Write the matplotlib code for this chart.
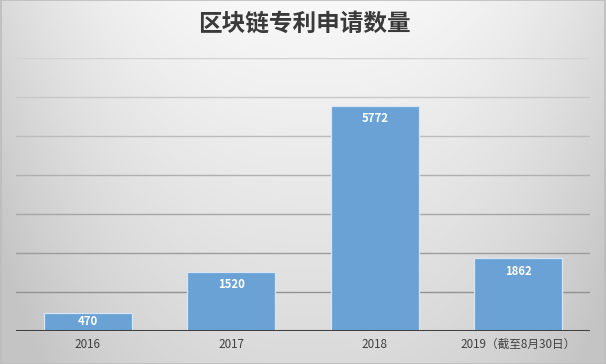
import numpy as np
import matplotlib
matplotlib.use('Agg')
import matplotlib.pyplot as plt

plt.rcParams['font.family'] = ['Noto Sans CJK SC', 'DejaVu Sans']

kategorie = ['2016', '2017', '2018', '2019（截至8月30日）']
wartosci = [470, 1520, 5772, 1862]
tytul = '区块链专利申请数量'
siatka = [1000, 2000, 3000, 4000, 5000, 6000, 7000]

W, H = 606, 364
fig = plt.figure(figsize=(W / 100, H / 100), dpi=100)

# tlo - gradient, jasny u gory w srodku, ciemniejszy przy krawedziach
tlo = fig.add_axes([0, 0, 1, 1], zorder=-10)
yy, xx = np.mgrid[0:H, 0:W]
u = np.abs(xx - 310) / 300
v = yy / H
szary = np.clip(248 - 28 * u ** 2.5 - 30 * v, 196, 250) / 255
tlo.imshow(np.dstack([szary, szary, szary]), extent=[0, 1, 0, 1], aspect='auto', origin='upper')
tlo.plot([0.001, 0.999, 0.999, 0.001, 0.001], [0.001, 0.001, 0.999, 0.999, 0.001],
         color='#bdbdbd', lw=1.2)
tlo.set_xlim(0, 1)
tlo.set_ylim(0, 1)
tlo.axis('off')

ax = fig.add_axes([16 / W, 33 / H, 574 / W, 273 / H])
ax.patch.set_alpha(0)
x = np.arange(len(kategorie))
ax.set_xlim(-0.5, len(kategorie) - 0.5)
ax.set_ylim(0, 7000)

kolory_siatki = ['#929292', '#9c9c9c', '#a6a6a6', '#b0b0b0', '#bcbcbc', '#c8c8c8', '#d2d2d2']
for poz, kol in zip(siatka, kolory_siatki):
    ax.axhline(poz, color=kol, lw=1.0, zorder=1)

ax.bar(x, wartosci, width=0.615, color='#6aa2d6', edgecolor='#d6e6f5', linewidth=0.9, zorder=2)
ax.axhline(0, color='#404040', lw=2.2, zorder=3)

for xi, v in zip(x, wartosci):
    ypos = max(v - 335, v / 2)
    ax.text(xi, ypos, str(v), ha='center', va='center', color='white',
            fontsize=8.2, fontweight='bold', zorder=4)

ax.set_xticks(x)
ax.set_xticklabels(kategorie, fontsize=8.4, color='#404040')
ax.tick_params(axis='x', length=0, pad=5)
ax.set_yticks([])
for s in ax.spines.values():
    s.set_visible(False)

fig.text(304 / W, 1 - 24 / H, tytul, ha='center', va='center', fontsize=17,
         color='#3a3a3a', fontweight='bold')

fig.savefig('out.png', dpi=100)
